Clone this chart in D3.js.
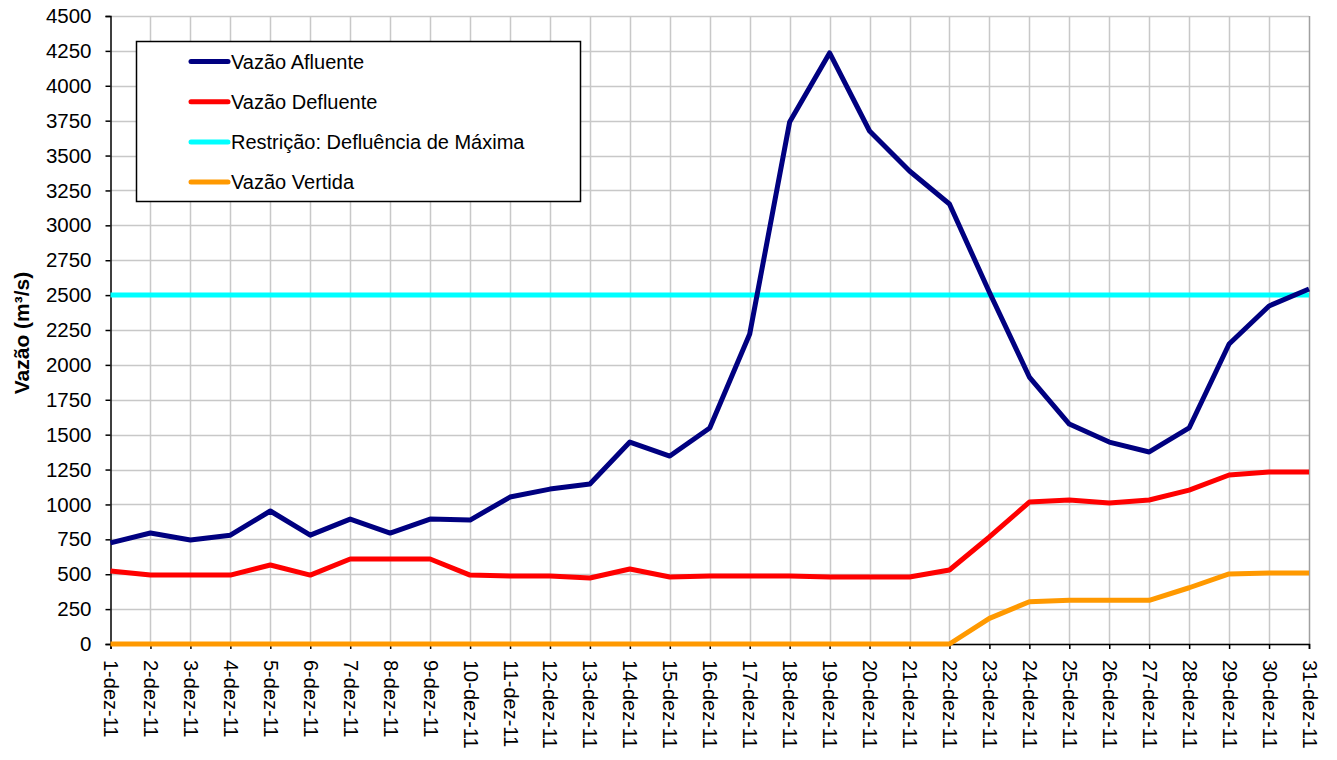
<!DOCTYPE html>
<html>
<head>
<meta charset="utf-8">
<script src="https://cdn.jsdelivr.net/npm/d3@7"></script>
<style>
  body { margin: 0; background: #fff; }
  text { font-family: Arial, "Liberation Sans", sans-serif; fill: #000; }
</style>
</head>
<body>
<script>
var width = 1337,
  height = 760,
  margin = { left: 110.5, right: 28, top: 16, bottom: 116 };

// days of December 2011
var days = d3.range(1, 32);
var dayLabels = days.map(function (d) { return d + "-dez-11"; });

var afluente = [725, 795, 745, 780, 953, 780, 895, 795, 895, 888,
  1053, 1110, 1146, 1447, 1347, 1548, 2221, 3740, 4235, 3676,
  3389, 3153, 2520, 1913, 1576, 1447, 1376, 1548, 2150, 2422, 2544];
var defluente = [523, 494, 494, 494, 566, 494, 609, 609, 609, 494,
  487, 487, 473, 537, 480, 487, 487, 487, 480, 480,
  480, 530, 767, 1017, 1032, 1010, 1032, 1103, 1211, 1232, 1232];
var restricao = days.map(function () { return 2500; });
var vertida = [0, 0, 0, 0, 0, 0, 0, 0, 0, 0,
  0, 0, 0, 0, 0, 0, 0, 0, 0, 0,
  0, 0, 184, 303, 313, 313, 313, 403, 502, 509, 509];

var yTicks = d3.range(0, 4501, 250);

var series = [
  { name: "Vazão Afluente", values: afluente, color: "#000080" },
  { name: "Vazão Defluente", values: defluente, color: "#ff0000" },
  { name: "Restrição: Defluência de Máxima", values: restricao, color: "#00ffff" },
  { name: "Vazão Vertida", values: vertida, color: "#ff9900" }
];

var svg = d3.select("body")
  .append("svg")
  .attr("width", width)
  .attr("height", height);

var xScale = d3.scaleLinear()
  .domain([1, 31])
  .range([margin.left, width - margin.right]);

var yScale = d3.scaleLinear()
  .domain([0, 4500])
  .range([height - margin.bottom, margin.top]);

//----------Grid----------
svg.append("g")
  .selectAll("line")
  .data(yTicks)
  .enter()
  .append("line")
  .attr("x1", xScale(1))
  .attr("x2", xScale(31))
  .attr("y1", function (d) { return Math.round(yScale(d)) + 0.5; })
  .attr("y2", function (d) { return Math.round(yScale(d)) + 0.5; })
  .attr("stroke", "#c8c8c8")
  .attr("stroke-width", 1.5);

svg.append("g")
  .selectAll("line")
  .data(days.slice(1))
  .enter()
  .append("line")
  .attr("x1", function (d) { return Math.round(xScale(d)) + 0.5; })
  .attr("x2", function (d) { return Math.round(xScale(d)) + 0.5; })
  .attr("y1", yScale(4500))
  .attr("y2", yScale(0))
  .attr("stroke", function (d) { return d === 31 ? "#a0a0a0" : "#c8c8c8"; })
  .attr("stroke-width", 1.5);

//----------Axes----------
var yAxis = d3.axisLeft(yScale)
  .tickValues(yTicks)
  .tickSize(5)
  .tickPadding(14)
  .tickFormat(d3.format("d"));

var gy = svg.append("g")
  .attr("transform", "translate(" + margin.left + ",0)")
  .call(yAxis);
gy.selectAll("text").style("font-size", "20.5px");

var xAxis = d3.axisBottom(xScale)
  .tickValues(days)
  .tickSize(5)
  .tickFormat(function (d) { return dayLabels[d - 1]; });

var gx = svg.append("g")
  .attr("transform", "translate(0," + (height - margin.bottom) + ")")
  .call(xAxis);
gx.selectAll("text")
  .style("font-size", "20px")
  .attr("text-anchor", "start")
  .attr("transform", "rotate(90)")
  .attr("x", 16)
  .attr("y", 0)
  .attr("dy", "0.35em");

svg.selectAll(".domain").attr("stroke", "#000").attr("stroke-width", 1.5);
svg.selectAll(".tick line").attr("stroke", "#000").attr("stroke-width", 1.5);

svg.append("text")
  .attr("transform", "translate(29,333) rotate(-90)")
  .attr("text-anchor", "middle")
  .style("font-size", "21px")
  .style("font-weight", "bold")
  .text("Vazão (m³/s)");

//----------Lines----------
var line = d3.line()
  .x(function (d, i) { return xScale(days[i]); })
  .y(function (d) { return yScale(d); });

var drawOrder = [series[2], series[3], series[1], series[0]];
svg.append("g")
  .selectAll("path")
  .data(drawOrder)
  .enter()
  .append("path")
  .attr("d", function (s) { return line(s.values); })
  .attr("fill", "none")
  .attr("stroke", function (s) { return s.color; })
  .attr("stroke-width", 5)
  .attr("stroke-linejoin", "round");

//----------Legend----------
var legend = svg.append("g");
legend.append("rect")
  .attr("x", 136.5)
  .attr("y", 41.5)
  .attr("width", 444)
  .attr("height", 160)
  .attr("fill", "#fff")
  .attr("stroke", "#000")
  .attr("stroke-width", 1.5);

var items = legend.selectAll("g.item")
  .data(series)
  .enter()
  .append("g")
  .attr("class", "item")
  .attr("transform", function (s, i) { return "translate(0," + (61.5 + i * 40.2) + ")"; });

items.append("line")
  .attr("x1", 191)
  .attr("x2", 228)
  .attr("stroke", function (s) { return s.color; })
  .attr("stroke-width", 5)
  .attr("stroke-linecap", "round");

items.append("text")
  .attr("x", 231)
  .attr("dy", "0.35em")
  .style("font-size", "20px")
  .text(function (s) { return s.name; });
</script>
</body>
</html>
